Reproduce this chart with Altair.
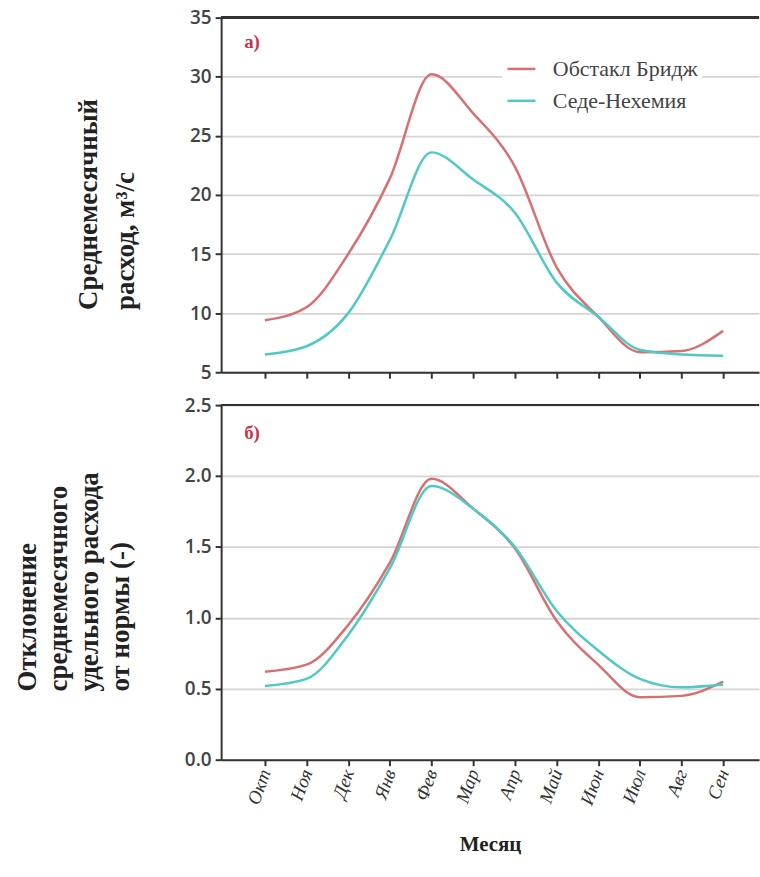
import altair as alt
import pandas as pd

months = ["Окт", "Ноя", "Дек", "Янв", "Фев", "Мар", "Апр", "Май", "Июн", "Июл", "Авг", "Сен"]
series_names = ["Обстакл Бридж", "Седе-Нехемия"]
flow_ob = [9.4, 10.5, 15.0, 21.4, 30.2, 26.9, 22.4, 13.9, 9.7, 6.7, 6.8, 8.5]
flow_sn = [6.5, 7.2, 10.0, 16.2, 23.6, 21.3, 18.5, 12.6, 9.7, 6.9, 6.5, 6.4]
dev_ob = [0.62, 0.67, 0.95, 1.39, 1.98, 1.77, 1.49, 0.98, 0.67, 0.44, 0.45, 0.55]
dev_sn = [0.52, 0.57, 0.88, 1.35, 1.93, 1.77, 1.50, 1.05, 0.77, 0.57, 0.51, 0.53]
colors = ["#d9706f", "#4ec9c3"]

rows = []
for i, m in enumerate(months):
    rows.append({"i": i, "month": m, "series": series_names[0], "flow": flow_ob[i], "dev": dev_ob[i]})
    rows.append({"i": i, "month": m, "series": series_names[1], "flow": flow_sn[i], "dev": dev_sn[i]})
df = pd.DataFrame(rows)

W, H = 540, 356
x_dom = [-1.05, 11.86]
label_expr = "[" + ",".join("'%s'" % m for m in months) + "][datum.value]"

tick_font = "Open Sans"
serif = "Liberation Serif"
axis_dark = "#333333"
grid_col = "#d4d4d4"

color_scale = alt.Scale(domain=series_names, range=colors)

# ---------- top panel ----------
x_top = alt.X("i:Q", scale=alt.Scale(domain=x_dom, nice=False, zero=False),
              axis=alt.Axis(values=list(range(12)), labels=False, title=None, grid=False,
                            ticks=True, tickSize=6, tickColor=axis_dark, tickWidth=2,
                            domainColor=axis_dark, domainWidth=2))
y_top = alt.Y("flow:Q", scale=alt.Scale(domain=[5, 35], nice=False, zero=False),
              axis=alt.Axis(values=[5, 10, 15, 20, 25, 30, 35],
                            title=["Среднемесячный", "расход, м³/с"],
                            titleFont=serif, titleFontSize=27, titleFontWeight="bold",
                            titleColor="#222", titleAngle=-90, titleAlign="left",
                            titleBaseline="top", titleX=-146, titleY=293, titleLineHeight=37,
                            labelFont=tick_font, labelFontSize=19, labelFontWeight=600,
                            labelColor="#444444", labelPadding=4,
                            tickSize=6, tickColor=axis_dark, tickWidth=2,
                            domainColor=axis_dark, domainWidth=2,
                            grid=True, gridColor=grid_col, gridWidth=1.8))

top_lines = alt.Chart(df).mark_line(interpolate="monotone", strokeWidth=2.5).encode(
    x=x_top, y=y_top,
    color=alt.Color("series:N", scale=color_scale, sort=series_names,
                    legend=alt.Legend(title=None, orient="none", legendX=282, legendY=32,
                                      symbolType="stroke", symbolSize=784, symbolStrokeWidth=2.5,
                                      labelFont=serif, labelFontSize=22, labelColor="#444",
                                      labelOffset=16, rowPadding=5, fillColor="white",
                                      padding=4, labelLimit=300)),
    detail="series:N",
)
top_border = alt.Chart(df).mark_rule(color=axis_dark, strokeWidth=2).encode(y=alt.datum(35))
top_label = alt.Chart(pd.DataFrame({"t": ["а)"]})).mark_text(
    font=serif, fontSize=19, fontWeight="bold", color="#c8344c"
).encode(text="t:N", x=alt.value(31), y=alt.value(24))

top = alt.layer(top_lines, top_border, top_label).properties(width=W, height=H)

# ---------- bottom panel ----------
x_bot = alt.X("i:Q", scale=alt.Scale(domain=x_dom, nice=False, zero=False),
              axis=alt.Axis(values=list(range(12)), labelExpr=label_expr, title="Месяц",
                            titleFont=serif, titleFontSize=21, titleFontWeight="bold",
                            titleColor="#222", titleY=74, titleBaseline="top",
                            labelFont=serif, labelFontStyle="italic", labelFontSize=19,
                            labelColor="#333", labelAngle=290, labelPadding=4,
                            grid=False, tickSize=6, tickColor=axis_dark, tickWidth=2,
                            domainColor=axis_dark, domainWidth=2))
y_bot = alt.Y("dev:Q", scale=alt.Scale(domain=[0, 2.5], nice=False, zero=False),
              axis=alt.Axis(values=[0, 0.5, 1.0, 1.5, 2.0, 2.5], format=".1f",
                            title=["Отклонение", "среднемесячного", "удельного расхода", "от нормы (-)"],
                            titleFont=serif, titleFontSize=27, titleFontWeight="bold",
                            titleColor="#222", titleAngle=-90, titleAlign="left",
                            titleBaseline="top", titleX=-207, titleY=287, titleLineHeight=31,
                            labelFont=tick_font, labelFontSize=19, labelFontWeight=600,
                            labelColor="#444444", labelPadding=4,
                            tickSize=6, tickColor=axis_dark, tickWidth=2,
                            domainColor=axis_dark, domainWidth=2,
                            grid=True, gridColor=grid_col, gridWidth=1.8))

bot_lines = alt.Chart(df).mark_line(interpolate="monotone", strokeWidth=2.5).encode(
    x=x_bot, y=y_bot,
    color=alt.Color("series:N", scale=color_scale, sort=series_names, legend=None),
    detail="series:N",
)
bot_border = alt.Chart(df).mark_rule(color=axis_dark, strokeWidth=2).encode(y=alt.datum(2.5))
bot_label = alt.Chart(pd.DataFrame({"t": ["б)"]})).mark_text(
    font=serif, fontSize=19, fontWeight="bold", color="#c8344c"
).encode(text="t:N", x=alt.value(31), y=alt.value(28))

bottom = alt.layer(bot_lines, bot_border, bot_label).properties(width=W, height=H)

chart = alt.vconcat(top, bottom, spacing=33, bounds="flush").resolve_scale(
    color="independent"
).properties(
    padding={"left": 14, "top": 7, "right": 0, "bottom": 5},
    background="white",
).configure_view(stroke=None)

chart.save("out.html", embed_options={"renderer": "svg", "actions": False})
